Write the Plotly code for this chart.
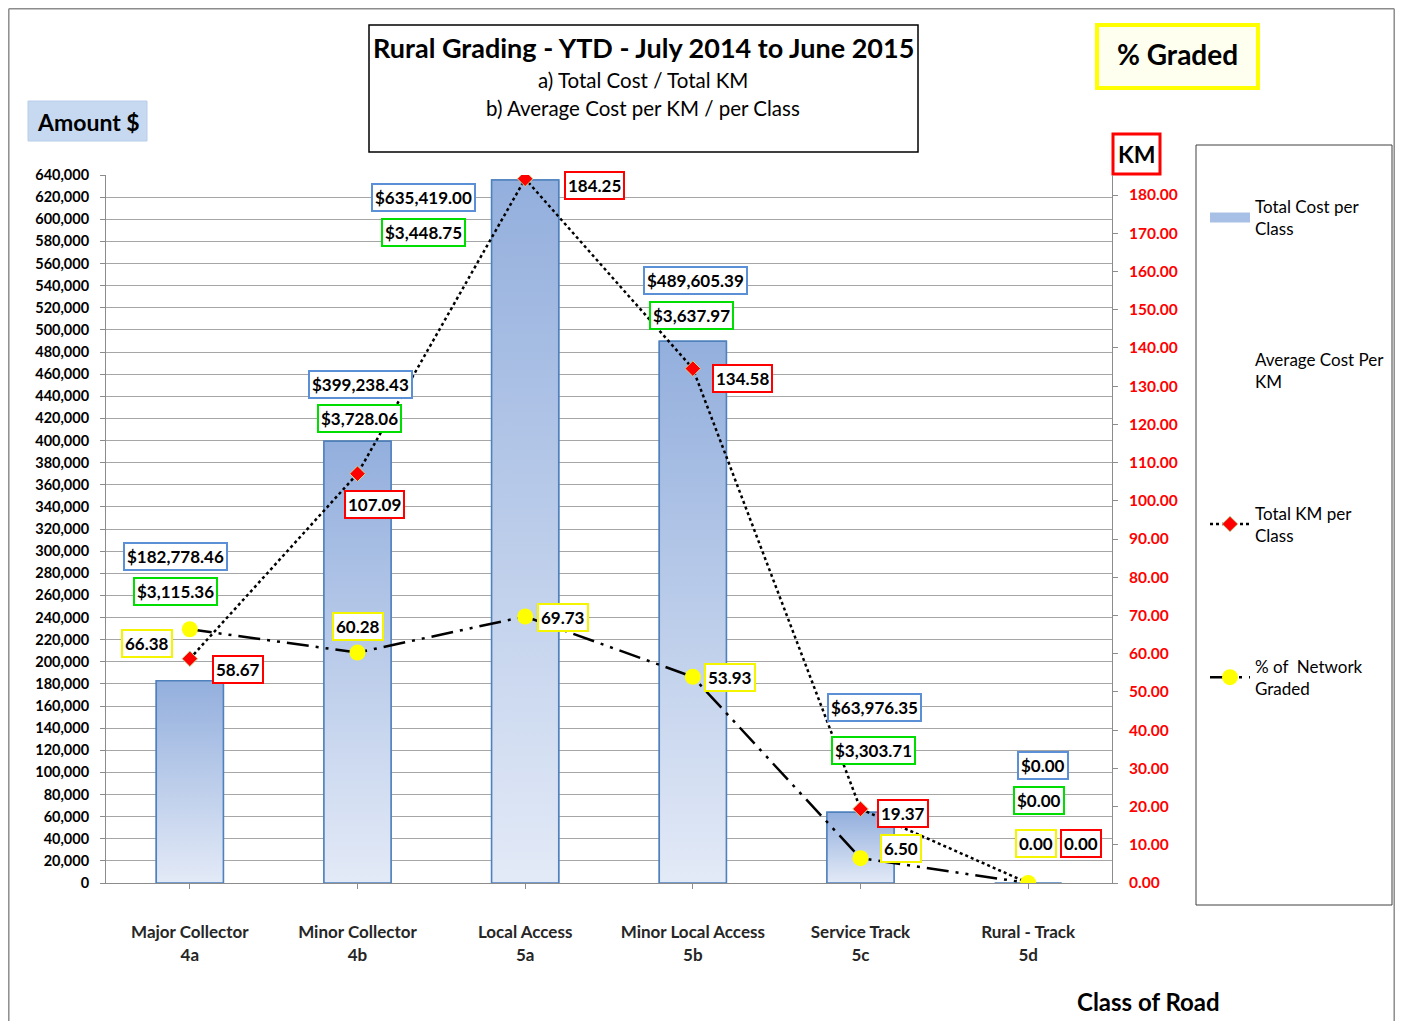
import plotly.graph_objects as go

categories = ["Major Collector<br>4a", "Minor Collector<br>4b", "Local Access<br>5a",
              "Minor Local Access<br>5b", "Service Track<br>5c", "Rural - Track<br>5d"]
total_cost = [182778.46, 399238.43, 635419.00, 489605.39, 63976.35, 0.00]
avg_cost_per_km = [3115.36, 3728.06, 3448.75, 3637.97, 3303.71, 0.00]
total_km = [58.67, 107.09, 184.25, 134.58, 19.37, 0.00]
pct_graded = [66.38, 60.28, 69.73, 53.93, 6.50, 0.00]

left_ticks = list(range(0, 640001, 20000))
right_ticks = list(range(0, 181, 10))

# ---- layout helpers (page pixel -> paper / container coords) ----
OFF = 8
W, H = 1387, 1014
PL, PR, PT, PB = 106, 1112, 175, 883
def X(px):
    return (px - PL) / (PR - PL)
def Y(py):
    return (PB - py) / (PB - PT)
def CX(px):
    return (px - OFF) / W
def CY(py):
    return 1 - (py - OFF) / H

FONT = "Lato"
BAR_W = 0.4
idx = list(range(len(categories)))

fig = go.Figure()
fig.add_trace(go.Bar(x=idx, y=total_cost, name="Total Cost per<br>Class", width=BAR_W,
                     marker=dict(color="#b9cbea", line=dict(color="#4f81bd", width=1.5)),
                     legendgroup="a", showlegend=False, yaxis="y", hoverinfo="skip"))
# gradient overlay for each bar (derived from the bar values)
for i, v in zip(idx, total_cost):
    if v <= 0:
        continue
    fig.add_trace(go.Scatter(
        x=[i - BAR_W / 2, i - BAR_W / 2, i + BAR_W / 2, i + BAR_W / 2, i - BAR_W / 2],
        y=[0, v, v, 0, 0], mode="lines", fill="toself",
        fillgradient=dict(type="vertical", start=0, stop=v,
                          colorscale=[[0, "#e3eaf7"], [1, "#93afdd"]]),
        line=dict(color="#4f81bd", width=1.5),
        legendgroup="a", showlegend=False, yaxis="y", hoverinfo="skip"))
# legend entry for the bars
fig.add_trace(go.Scatter(x=[None], y=[None], mode="lines", name="Total Cost per<br>Class",
                         line=dict(color="#a9c0e6", width=10), legendgroup="a", yaxis="y"))

fig.add_trace(go.Scatter(x=idx, y=avg_cost_per_km, name="Average Cost Per<br>KM", mode="markers",
                         marker=dict(color="rgba(0,0,0,0)", size=1),
                         legendgroup="b", yaxis="y"))
fig.add_trace(go.Scatter(x=idx, y=total_km, name="Total KM per<br>Class", mode="lines+markers",
                         line=dict(color="black", width=2.5, dash="dot"),
                         marker=dict(symbol="diamond", color="#ff0000", size=12,
                                     line=dict(color="#c4d79b", width=1)),
                         legendgroup="c", yaxis="y2"))
fig.add_trace(go.Scatter(x=idx, y=pct_graded, name="% of  Network<br>Graded", mode="lines+markers",
                         line=dict(color="black", width=2.5, dash="22px,7px,3px,7px,3px,7px"),
                         marker=dict(symbol="circle", color="#ffff00", size=16),
                         legendgroup="d", yaxis="y2"))

ann = []
def box(px, py, text, size, color="black", bold=True):
    ann.append(dict(x=X(px), y=Y(py), xref="paper", yref="paper", text=text,
                    showarrow=False, xanchor="center", yanchor="middle",
                    font=dict(family=FONT, size=size, color=color,
                              weight="bold" if bold else "normal")))

# data labels: (x shift px, page y px)
blue_pos = [(-14, 556), (3, 384), (-102, 197), (3, 280), (14, 707), (15, 765)]
green_pos = [(-14, 591), (2, 418), (-102, 232), (-1, 315), (13, 750), (11, 800)]
red_pos = [(48, 669), (17, 504), (69, 185), (50, 378), (42, 813), (53, 843)]
yellow_pos = [(-43, 643), (0, 626), (38, 617), (37, 677), (40, 848), (8, 843)]

def label(i, pos, text, border):
    dx, py = pos
    ann.append(dict(x=i, xref="x", y=Y(py), yref="paper", xshift=dx, text=text,
                    showarrow=False, xanchor="center", yanchor="middle",
                    font=dict(family=FONT, size=17, color="black", weight="bold"),
                    bgcolor="white", bordercolor=border, borderwidth=2, borderpad=2))

for i in idx:
    label(i, blue_pos[i], f"${total_cost[i]:,.2f}", "#5b8fd6")
    label(i, green_pos[i], f"${avg_cost_per_km[i]:,.2f}", "#00dd00")
    label(i, red_pos[i], f"{total_km[i]:.2f}", "#ff0000")
    label(i, yellow_pos[i], f"{pct_graded[i]:.2f}", "#f5f500")

# title texts
box(643, 48, "Rural Grading - YTD - July 2014 to June 2015", 27)
box(643, 80, "a) Total Cost / Total KM", 20.5, bold=False)
box(643, 108, "b) Average Cost per KM / per Class", 20.5, bold=False)
box(1177, 54, "% Graded", 28)
box(88, 122, "Amount $", 23)
box(1137, 154, "KM", 23)
box(1148, 1001, "Class of Road", 24)

frame = dict(type="line", xref="paper", yref="paper", line=dict(color="#8c8c8c", width=1.5),
             layer="below")
shapes = [
    # outer frame (left, top, right)
    dict(frame, x0=X(8.8), x1=X(8.8), y0=Y(1021), y1=Y(8.8)),
    dict(frame, x0=X(8.8), x1=X(1394.2), y0=Y(8.8), y1=Y(8.8)),
    dict(frame, x0=X(1394.2), x1=X(1394.2), y0=Y(1021), y1=Y(8.8)),
    # title box
    dict(type="rect", xref="paper", yref="paper", x0=X(369), x1=X(918), y0=Y(152), y1=Y(25),
         line=dict(color="black", width=1.5)),
    # % Graded box
    dict(type="rect", xref="paper", yref="paper", x0=X(1097), x1=X(1258), y0=Y(88), y1=Y(25),
         line=dict(color="#ffff00", width=4), fillcolor="#fffff0", layer="below"),
    # Amount box
    dict(type="rect", xref="paper", yref="paper", x0=X(28), x1=X(147), y0=Y(141), y1=Y(101),
         line=dict(color="#b8cde9", width=1), fillcolor="#c6d9f1", layer="below"),
    # KM box
    dict(type="rect", xref="paper", yref="paper", x0=X(1113), x1=X(1160), y0=Y(174), y1=Y(134),
         line=dict(color="#ff0000", width=3), fillcolor="white", layer="below"),
    # legend box
    dict(type="rect", xref="paper", yref="paper", x0=X(1196), x1=X(1392), y0=Y(905), y1=Y(145),
         line=dict(color="#404040", width=1)),
]

fig.update_layout(
    width=W, height=H,
    margin=dict(l=PL - OFF, r=OFF + W - PR, t=PT - OFF, b=OFF + H - PB, pad=0, autoexpand=False),
    paper_bgcolor="white", plot_bgcolor="white",
    font=dict(family=FONT, color="black"),
    bargap=0.6,
    showlegend=True,
    legend=dict(x=CX(1205), y=CY(189), xref="container", yref="container",
                xanchor="left", yanchor="top", maxheight=900,
                traceorder="grouped", tracegroupgap=106, itemwidth=40,
                font=dict(family=FONT, size=17, color="black"),
                bgcolor="rgba(0,0,0,0)", borderwidth=0),
    xaxis=dict(range=[-0.5, 5.5], tickmode="array", tickvals=idx, ticktext=categories,
               showgrid=False, showline=True, linecolor="#8c8c8c", linewidth=1,
               ticks="outside", ticklen=5, tickcolor="#8c8c8c",
               tickfont=dict(family=FONT, size=17, color="#262626", weight="bold"),
               ticklabelstandoff=29, zeroline=False, automargin=False),
    yaxis=dict(range=[0, 640000], tickmode="array", tickvals=left_ticks,
               ticktext=[f"{v:,}" for v in left_ticks],
               showgrid=True, gridcolor="#a6a6a6", gridwidth=1,
               showline=True, linecolor="#8c8c8c", linewidth=1,
               ticks="outside", ticklen=5, tickcolor="#8c8c8c",
               tickfont=dict(family=FONT, size=14.5, color="black", weight="bold"),
               ticklabelstandoff=8, zeroline=False, automargin=False),
    yaxis2=dict(range=[0, 180 * (PB - PT) / (PB - 195)], overlaying="y", side="right",
                tickmode="array", tickvals=right_ticks,
                ticktext=[f"{v:.2f}" for v in right_ticks],
                showgrid=False, showline=True, linecolor="#8c8c8c", linewidth=1,
                ticks="outside", ticklen=5, tickcolor="#8c8c8c",
                tickfont=dict(family=FONT, size=15.5, color="#ff0000", weight="bold"),
                ticklabelstandoff=8, zeroline=False, automargin=False),
    annotations=ann,
    shapes=shapes,
)

fig.write_html("out.html")
